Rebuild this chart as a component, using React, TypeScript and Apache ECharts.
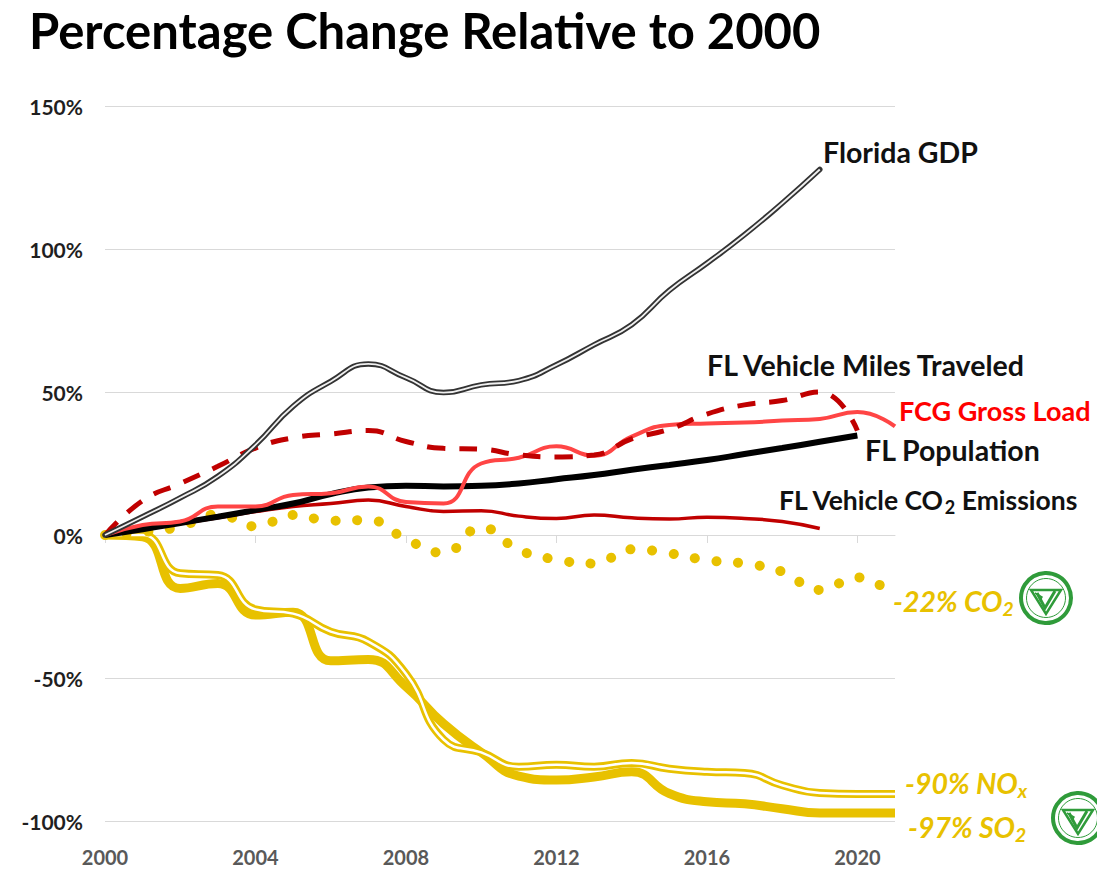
import React, { useEffect, useRef } from "react";
import * as echarts from "echarts";

const years = ["2000","2001","2002","2003","2004","2005","2006","2007","2008","2009","2010","2011","2012","2013","2014","2015","2016","2017","2018","2019","2020","2021"];
const yTicks = [-100, -50, 0, 50, 100, 150];

const gdp = [0, 6.4, 13, 20.5, 31.5, 45, 53.7, 59.8, 55, 49.8, 52.5, 54, 59.5, 66.5, 73.5, 85.5, 95, 105, 116, 127.8, null, null];
const vmt = [0, 12, 18, 24, 30.4, 34, 35.3, 36.5, 32.7, 30.3, 30, 28, 27.3, 28, 33.6, 37, 42.3, 45.5, 47, 50, 36.5, null];
const fcgLoad = [0, 3.5, 4.7, 10, 10, 14, 14.6, 17, 11.5, 11, 25, 27, 31, 27.7, 34.4, 38.5, 39, 39.3, 40, 40.6, 43, 38];
const population = [0, 2, 4.2, 6.4, 8.7, 11, 14.3, 16.6, 17.2, 17, 17.2, 18, 19.5, 21, 22.8, 24.5, 26.2, 28.3, 30.4, 32.6, 34.8, null];
const vehicleCO2 = [0, 2, 4, 6, 8.2, 10, 11, 12.2, 10, 8.2, 8.5, 6.6, 5.8, 7, 6, 5.6, 6.2, 5.8, 4.7, 2.3, null, null];
const co2 = [0, 1, 3, 7.2, 3, 7, 5, 5.2, -1.4, -6.2, 2.6, -5.2, -8.6, -10, -5, -6.4, -8.8, -10, -12.8, -19.2, -14.8, -22];
const so2 = [0, -0.6, -18.7, -17, -28, -27, -44, -43.5, -53, -66, -76, -84.3, -85.7, -84.6, -82.8, -90.4, -93.3, -94, -95.7, -97.2, -97.2, -97.2];
const nox = [0, 0, -13.4, -14, -26, -27.5, -33.8, -37.3, -48.5, -71.5, -76, -81, -80.3, -81, -79.7, -81.7, -82.8, -83.2, -87.5, -90.2, -90.6, -90.6];

const FONT = "Lato, 'Noto Sans', sans-serif";
const YEL = "#E8C100";
const DRED = "#C00000";

function logo(cx: number, cy: number) {
  const g = "#2F9B3A";
  return {
    type: "group",
    x: cx,
    y: cy,
    children: [
      { type: "circle", shape: { cx: 0, cy: 0, r: 25 }, style: { fill: "#fff", stroke: g, lineWidth: 4 } },
      { type: "circle", shape: { cx: 0, cy: 0, r: 19.5 }, style: { fill: "none", stroke: g, lineWidth: 1 } },
      { type: "polygon", shape: { points: [[-15, -8], [15, -8], [0, 16]] }, style: { fill: "none", stroke: g, lineWidth: 2.5 } },
      { type: "polyline", shape: { points: [[-9, -5], [-1, 10], [9, -7]] }, style: { fill: "none", stroke: g, lineWidth: 3 } },
      { type: "polyline", shape: { points: [[-11, -5], [-4, -1], [-6, 3]] }, style: { fill: "none", stroke: g, lineWidth: 1.5 } },
    ],
  };
}

function label(x: number, y: number, text: string, color: string, italic = false, size = 28.5) {
  return {
    type: "text",
    x,
    y,
    style: {
      text,
      fill: color,
      font: `${italic ? "italic " : ""}bold ${size}px ${FONT}`,
      verticalAlign: "middle",
      rich: {
        a: { fontFamily: FONT, fontSize: size, fontWeight: "bold", fontStyle: italic ? "italic" : "normal", fill: color, color },
        s: { fontFamily: FONT, fontSize: size * 0.68, fontWeight: "bold", fontStyle: italic ? "italic" : "normal", fill: color, color, padding: [size * 0.55, 0, 0, 0] },
      },
    },
  };
}

export default function App() {
  const ref = useRef<HTMLDivElement>(null);
  useEffect(() => {
    if (!ref.current) return;
    const chart = echarts.init(ref.current, undefined, { renderer: "svg" });
    const line = (name: string, data: any[], color: string, width: number, extra: any = {}) => ({
      name,
      type: "line",
      data,
      smooth: true,
      showSymbol: false,
      symbol: "none",
      connectNulls: false,
      xAxisIndex: 0,
      lineStyle: { color, width, ...extra },
      z: 2,
    });
    chart.setOption({
      animation: false,
      backgroundColor: "#fff",
      title: {
        text: "Percentage Change Relative to 2000",
        left: 24,
        top: 0,
        textStyle: { fontFamily: FONT, fontSize: 49, fontWeight: "bold", color: "#000" },
      },
      grid: { left: 105, right: 202, top: 106, bottom: 48 },
      xAxis: [
        {
          type: "category",
          data: years,
          boundaryGap: false,
          axisLine: { onZero: true, lineStyle: { color: "#d9d9d9", width: 1 } },
          axisTick: { show: true, interval: 3, length: 8, lineStyle: { color: "#d9d9d9" } },
          axisLabel: { show: false },
          splitLine: { show: false },
        },
        {
          type: "category",
          data: years,
          boundaryGap: false,
          position: "bottom",
          axisLine: { show: false, onZero: false },
          axisTick: { show: false },
          axisLabel: { interval: 3, margin: 26, fontFamily: FONT, fontSize: 20, fontWeight: "bold", color: "#595959" },
          splitLine: { show: false },
        },
      ],
      yAxis: {
        type: "value",
        min: yTicks[0],
        max: yTicks[yTicks.length - 1],
        interval: 50,
        axisLine: { show: false },
        axisTick: { show: false },
        axisLabel: { formatter: (v: number) => `${v}%`, margin: 22, fontFamily: FONT, fontSize: 21, fontWeight: "bold", color: "#1f1f1f" },
        splitLine: { lineStyle: { color: "#d9d9d9", width: 1 } },
      },
      series: [
        line("SO2", so2, YEL, 9),
        line("NOx", nox, YEL, 8),
        line("NOx inner", nox, "#ffffff", 2.5),
        line("CO2", co2, YEL, 10, { type: [0.1, 21.6], cap: "round" }),
        line("FL Vehicle CO2 Emissions", vehicleCO2, DRED, 3.5),
        line("FL Population", population, "#000000", 6),
        line("FCG Gross Load", fcgLoad, "#FF4545", 4),
        line("FL Vehicle Miles Traveled", vmt, DRED, 5, { type: [18, 14] }),
        line("Florida GDP", gdp, "#333333", 5.5, { cap: "round" }),
        line("Florida GDP inner", gdp, "#f0f0f0", 1.8),
      ],
      graphic: [
        label(823, 152, "{a|Florida GDP}", "#111"),
        label(707, 365, "{a|FL Vehicle Miles Traveled}", "#111"),
        label(899, 410, "{a|FCG Gross Load}", "#FF0000", false, 27),
        label(865, 450, "{a|FL Population}", "#111"),
        label(779, 500, "{a|FL Vehicle CO}{s|2}{a| Emissions}", "#111", false, 26.5),
        label(893, 601, "{a|-22% CO}{s|2}", YEL, true),
        label(905, 783, "{a|-90% NO}{s|x}", YEL, true),
        label(908, 827, "{a|-97% SO}{s|2}", YEL, true),
        logo(1046, 598),
        logo(1078, 818),
      ],
    });
    return () => chart.dispose();
  }, []);
  return <div ref={ref} style={{ position: "fixed", left: 0, top: 0, width: 1097, height: 869 }} />;
}
